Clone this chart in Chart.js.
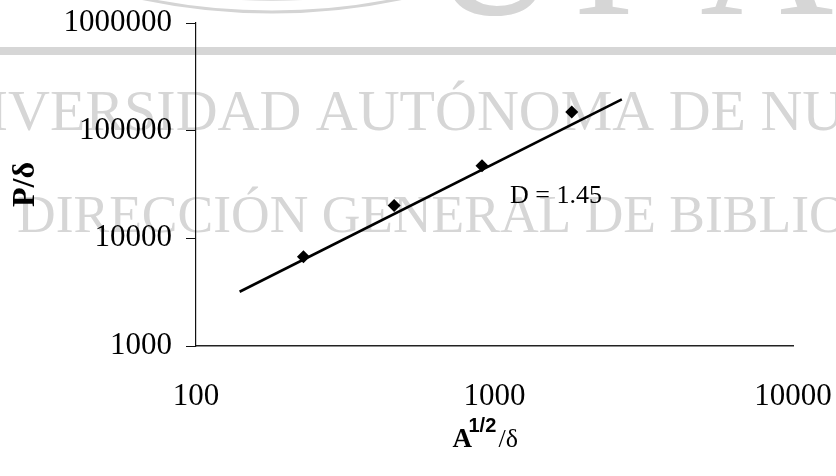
<!DOCTYPE html>
<html>
<head>
<meta charset="utf-8">
<script src="https://cdn.jsdelivr.net/npm/chart.js@4.4.1/dist/chart.umd.min.js"></script>
<style>
  html, body { margin: 0; padding: 0; background: #fff; }
</style>
</head>
<body>
<canvas id="myChart" width="836" height="476"></canvas>
<script>
// measured points: A^(1/2)/δ vs P/δ
const sizeX = [229, 461, 908, 1815];
const ratioY = [6750, 20200, 47200, 149000];

// end points of the fitted power-law line
const fitX = [140, 2670];
const fitY = [3190, 195000];

const xTicks = [100, 1000, 10000];
const yTicks = [1000, 10000, 100000, 1000000];
const slopeLabel = "D = 1.45";

const serif = '"Liberation Serif", "Times New Roman", serif';
const tickFont = { family: serif, size: 31 };

// gray watermark behind the plot
const watermark = {
  id: "watermark",
  beforeDraw(chart) {
    const ctx = chart.ctx;
    ctx.save();
    ctx.fillStyle = "#fff";
    ctx.fillRect(0, 0, chart.width, chart.height);

    ctx.strokeStyle = "#d4d4d4";
    ctx.lineWidth = 3;
    ctx.beginPath();
    ctx.arc(272, -614, 626, 0, Math.PI);
    ctx.stroke();
    ctx.lineWidth = 1.5;
    ctx.beginPath();
    ctx.arc(272, -614, 614, 0, Math.PI);
    ctx.stroke();

    ctx.fillStyle = "#d6d6d6";
    ctx.font = "185px " + serif;
    ctx.textBaseline = "alphabetic";
    ctx.fillText("U", 428, 14);
    ctx.fillText("I", 573, 14);
    ctx.fillText("A", 700, 14);

    ctx.fillRect(0, 47, chart.width, 8);

    ctx.font = "58px " + serif;
    ctx.fillText("UNIVERSIDAD AUTÓNOMA DE NUEVO LEÓN", -95, 130);
    ctx.font = "53.5px " + serif;
    ctx.fillText("DIRECCIÓN GENERAL DE BIBLIOTECAS", 17, 232);
    ctx.restore();
  }
};

// slope label and x-axis title with superscript
const labels = {
  id: "labels",
  afterDraw(chart) {
    const ctx = chart.ctx;
    const area = chart.chartArea;
    const cx = (area.left + area.right) / 2;
    ctx.save();
    ctx.fillStyle = "#000";
    ctx.textBaseline = "alphabetic";
    ctx.textAlign = "left";

    ctx.font = "26px " + serif;
    ctx.fillText(slopeLabel, 510, 203);

    ctx.font = "bold 27px " + serif;
    ctx.fillText("A", cx - 42, 447);
    ctx.font = 'bold 20px "Liberation Sans", Arial, sans-serif';
    ctx.fillText("1/2", cx - 26, 432);
    ctx.font = "26px " + serif;
    ctx.fillText("/δ", cx + 4, 447);
    ctx.restore();
  }
};

const ctx = document.getElementById("myChart").getContext("2d");
new Chart(ctx, {
  type: "scatter",
  data: {
    datasets: [
      {
        label: "fit",
        data: fitX.map((x, i) => ({ x: x, y: fitY[i] })),
        showLine: true,
        borderColor: "#000",
        borderWidth: 2.6,
        pointRadius: 0,
        order: 2
      },
      {
        label: "P/δ",
        data: sizeX.map((x, i) => ({ x: x, y: ratioY[i] })),
        pointStyle: "rectRot",
        pointRadius: 6.5,
        backgroundColor: "#000",
        borderColor: "#000",
        borderWidth: 0,
        order: 1
      }
    ]
  },
  options: {
    responsive: false,
    animation: false,
    layout: { padding: { left: 0, right: 43, top: 23, bottom: 0 } },
    plugins: {
      legend: { display: false },
      tooltip: { enabled: false }
    },
    scales: {
      x: {
        type: "logarithmic",
        min: 100,
        max: 10000,
        afterBuildTicks: (s) => { s.ticks = xTicks.map((v) => ({ value: v })); },
        afterFit: (s) => {
          s.height = 130;
          s.paddingLeft = 0;
          s.paddingRight = 0;
        },
        grid: { drawOnChartArea: false, drawTicks: false },
        border: { display: true, color: "#222", width: 1.5 },
        ticks: {
          font: tickFont,
          color: "#000",
          padding: 32,
          maxRotation: 0,
          callback: (v) => String(v)
        }
      },
      y: {
        type: "logarithmic",
        min: 1000,
        max: 1000000,
        afterBuildTicks: (s) => { s.ticks = yTicks.map((v) => ({ value: v })); },
        afterFit: (s) => {
          s.width = 196;
          s.paddingTop = 0;
          s.paddingBottom = 0;
        },
        grid: { drawOnChartArea: false, drawTicks: true, tickLength: 10, color: "#111" },
        border: { display: true, color: "#111", width: 1.2 },
        ticks: {
          font: tickFont,
          color: "#000",
          padding: 14,
          callback: (v) => String(v)
        },
        title: {
          display: true,
          text: "P/δ",
          color: "#000",
          font: { family: serif, size: 32, weight: "bold" },
          padding: { top: 7, bottom: 0 }
        }
      }
    }
  },
  plugins: [watermark, labels]
});
</script>
</body>
</html>
